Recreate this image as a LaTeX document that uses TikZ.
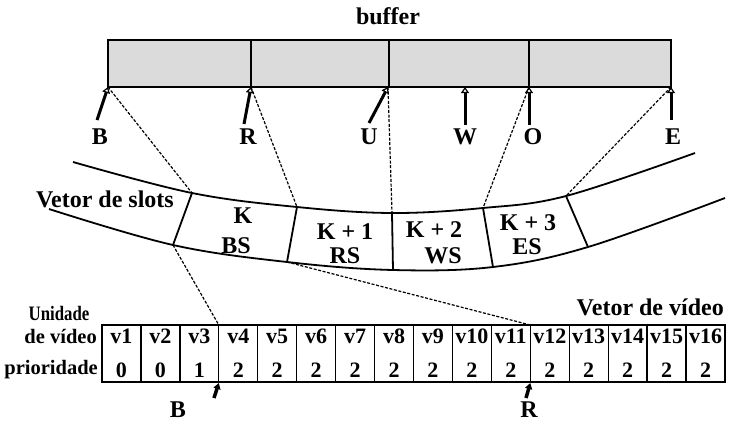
\documentclass[tikz,border=0pt]{standalone}
\usepackage{fontspec}
\setmainfont{Liberation Serif}
\usetikzlibrary{arrows.meta}
\begin{document}
\begin{tikzpicture}[x=1pt,y=-1pt,
  lbl/.style={font=\fontsize{24}{24}\selectfont\bfseries, inner sep=0pt},
  cell/.style={font=\fontsize{22}{22}\selectfont\bfseries, inner sep=0pt},
  side/.style={font=\fontsize{20.5}{20.5}\selectfont\bfseries, inner sep=0pt},
  guide/.style={dash pattern=on 3pt off 1.6pt, line width=1.2pt},
  wall/.style={line width=1.8pt},
  ptr/.style={line width=3pt, -{Triangle[open,length=6pt,width=8pt,line width=1.2pt]}},
  ptrb/.style={line width=3.5pt, -{Triangle[length=6pt,width=7pt]}},
]
\useasboundingbox (0,0) rectangle (729,424);

% ---------- buffer ----------
\node[lbl] (buflbl) at (388,16) {buffer};
\draw[wall, fill=black!14] (108,40) rectangle (671,87);
\foreach \x in {251,389,529} \draw[wall] (\x,40) -- (\x,87);

\coordinate (pB) at (108,87);
\coordinate (pR) at (251,87);
\coordinate (pU) at (388,87);
\coordinate (pW) at (465,87);
\coordinate (pO) at (529,87);
\coordinate (pE) at (671,87);

\coordinate (tB) at (97,120);
\coordinate (tR) at (244,124);
\coordinate (tU) at (369,123);
\coordinate (tW) at (465,125);
\coordinate (tO) at (529,125);
\coordinate (tE) at (671,120);

\foreach \p in {B,R,U,W,O,E} \draw[ptr] (t\p) -- (p\p);

\node[lbl] (lB) at (100,137) {B};
\node[lbl] (lR) at (248,137) {R};
\node[lbl] (lU) at (369,137) {U};
\node[lbl] (lW) at (465,137) {W};
\node[lbl] (lO) at (533,137) {O};
\node[lbl] (lE) at (673,137) {E};

% ---------- slot vector ----------
\coordinate (u1) at (192,193);
\coordinate (u2) at (297,207);
\coordinate (u3) at (392,213);
\coordinate (u4) at (483,208);
\coordinate (u5) at (566,196);
\coordinate (l1) at (173,245);
\coordinate (l2) at (287,262);
\coordinate (l3) at (393,270);
\coordinate (l4) at (493,267);
\coordinate (l5) at (588,247);

\draw[wall] plot[smooth, tension=0.6] coordinates
  {(73,162) (u1) (u2) (u3) (u4) (u5) (695,153)};
\draw[wall] plot[smooth, tension=0.6] coordinates
  {(49,209) (l1) (l2) (l3) (l4) (l5) (725,198)};
\foreach \i in {1,...,5} \draw[wall] (u\i) -- (l\i);

\node[lbl, anchor=east] (slotlbl) at (174,199) {Vetor de slots};
\node[lbl] (k0) at (243,216) {K};
\node[lbl] (k0s) at (236,246) {BS};
\node[lbl] (k1) at (345,232) {K + 1};
\node[lbl] (k1s) at (345,256) {RS};
\node[lbl] (k2) at (434,230) {K + 2};
\node[lbl] (k2s) at (443,256) {WS};
\node[lbl] (k3) at (528,223) {K + 3};
\node[lbl] (k3s) at (527,247) {ES};

% guides from buffer pointers to slot boundaries
\draw[guide] (pB) -- (u1);
\draw[guide] (pR) -- (u2);
\draw[guide] (pU) -- (u3);
\draw[guide] (pO) -- (u4);
\draw[guide] (pE) -- (u5);

% ---------- video vector ----------
\def\cw{38.9375}
\draw[line width=1.3pt] (102,325) rectangle (725,382);
\foreach \i in {1,...,15} \draw[line width=1.3pt] (102+\i*\cw,325) -- (102+\i*\cw,382);
\foreach \i/\p in {1/0,2/0,3/1,4/2,5/2,6/2,7/2,8/2,9/2,10/2,11/2,12/2,13/2,14/2,15/2,16/2} {
  \node[cell] (v\i) at (102+\i*\cw-0.5*\cw,336) {v\i};
  \node[cell] (n\i) at (102+\i*\cw-0.5*\cw,370) {\p};
}
\coordinate (bB) at (102+3*\cw,325);
\coordinate (bR) at (102+11*\cw,325);
\coordinate (qB) at (102+3*\cw,383);
\coordinate (qR) at (102+11*\cw,383);

\node[side, xscale=0.82] (uni) at (59,313) {Unidade};
\node[side, anchor=east] (dev) at (97,336) {de vídeo};
\node[side, anchor=east] (pri) at (98,370) {prioridade};
\node[lbl, anchor=east] (vv) at (724,307) {Vetor de vídeo};

\draw[guide] (l1) -- (bB);
\draw[guide] (l2) -- (bR);

\coordinate (sB) at (214,398);
\coordinate (sR) at (526,398);
\draw[ptrb] (sB) -- (qB);
\draw[ptrb] (sR) -- (qR);
\node[lbl] (bl) at (178,410) {B};
\node[lbl] (rl) at (529,410) {R};
\end{tikzpicture}
\end{document}
